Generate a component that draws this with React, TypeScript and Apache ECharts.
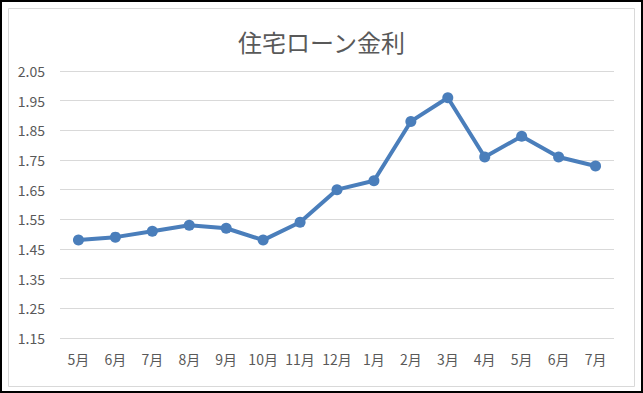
import React, { useEffect, useRef } from "react";
import * as echarts from "echarts";

const TITLE = "住宅ローン金利";
const MONTHS = ["5月", "6月", "7月", "8月", "9月", "10月", "11月", "12月", "1月", "2月", "3月", "4月", "5月", "6月", "7月"];
const RATES = [1.48, 1.49, 1.51, 1.53, 1.52, 1.48, 1.54, 1.65, 1.68, 1.88, 1.96, 1.76, 1.83, 1.76, 1.73];
const Y_MIN = 1.15;
const Y_MAX = 2.05;
const Y_STEP = 0.1;

const FONT = "'Noto Sans CJK JP', 'Noto Sans', sans-serif";

export default function App() {
  const ref = useRef<HTMLDivElement>(null);
  useEffect(() => {
    document.body.style.margin = "0";
    const chart = echarts.init(ref.current!, null, { renderer: "svg" });
    chart.setOption({
      animation: false,
      backgroundColor: "#ffffff",
      title: {
        text: TITLE,
        left: "center",
        top: 24,
        textStyle: { color: "#595959", fontSize: 24, fontWeight: "normal", fontFamily: FONT },
      },
      graphic: [
        { type: "rect", shape: { x: 1, y: 1, width: 641, height: 391 }, style: { fill: "none", stroke: "#000", lineWidth: 2 } },
        { type: "rect", shape: { x: 8.5, y: 8.5, width: 626, height: 378 }, style: { fill: "none", stroke: "#d9d9d9", lineWidth: 1 } },
      ],
      grid: { left: 60, right: 29, top: 71, bottom: 55 },
      xAxis: {
        type: "category",
        data: MONTHS,
        boundaryGap: true,
        axisLine: { show: false },
        axisTick: { show: false },
        axisLabel: { color: "#595959", fontSize: 14, margin: 14, fontFamily: FONT, interval: 0 },
      },
      yAxis: {
        type: "value",
        min: Y_MIN,
        max: Y_MAX,
        interval: Y_STEP,
        axisLine: { show: false },
        axisTick: { show: false },
        axisLabel: {
          color: "#595959",
          fontSize: 14,
          margin: 15,
          fontFamily: FONT,
          formatter: (v: number) => v.toFixed(2),
        },
        splitLine: { lineStyle: { color: "#d9d9d9", width: 1 } },
      },
      series: [
        {
          type: "line",
          data: RATES,
          symbol: "circle",
          symbolSize: 11,
          lineStyle: { color: "#4a7ebb", width: 4 },
          itemStyle: { color: "#4a7ebb" },
        },
      ],
    });
    return () => chart.dispose();
  }, []);
  return <div ref={ref} style={{ width: 643, height: 393 }} />;
}
